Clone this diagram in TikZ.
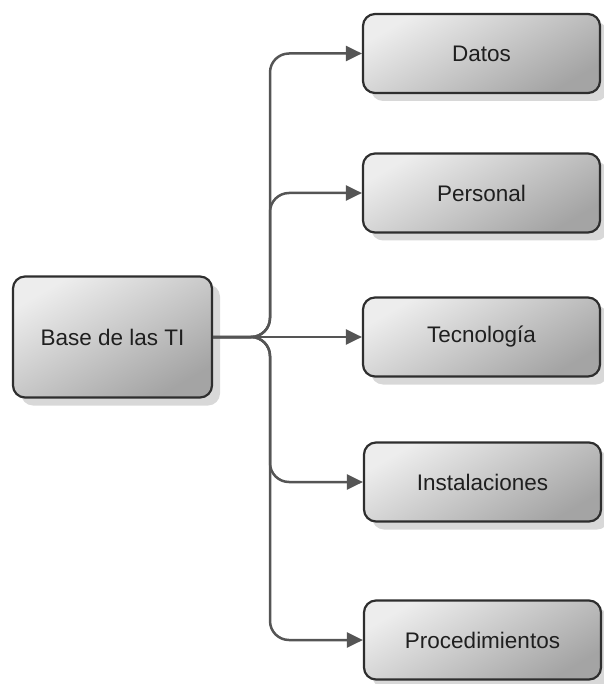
\documentclass[tikz,border=0pt]{standalone}
\usepackage{fontspec}
\setmainfont{Liberation Sans}
\usetikzlibrary{arrows.meta,shadows}
\definecolor{linec}{HTML}{555555}
\definecolor{borderc}{HTML}{2E2E2E}
\definecolor{lightc}{HTML}{EDEDED}
\definecolor{darkc}{HTML}{A4A4A4}
\definecolor{shadowc}{HTML}{D8D8D8}
\tikzset{
  boxnode/.style={draw=borderc, line width=2.2pt, rounded corners=12pt,
    top color=lightc, bottom color=darkc, shading angle=30,
    general shadow={fill=shadowc, shadow xshift=8pt, shadow yshift=-8pt},
    text=black!88, font=\fontsize{22.5}{26}\selectfont, align=center},
  rbox/.style={boxnode, minimum width=237pt, minimum height=79pt},
  conn/.style={draw=linec, line width=2.5pt, rounded corners=19pt,
    -{Triangle[length=16pt,width=15pt]}}
}
\begin{document}
\begin{tikzpicture}[x=1pt,y=-1pt]
\useasboundingbox (0,0) rectangle (603,684);
\node[boxnode, minimum width=199pt, minimum height=121pt] (base) at (112.5,337) {Base de las TI};
\node[rbox] (datos) at (481.5,53.5) {Datos};
\node[rbox] (personal) at (481.5,193) {Personal};
\node[rbox] (tecno) at (481.5,337) {Tecnología};
\node[rbox] (instal) at (482.5,482) {Instalaciones};
\node[rbox] (proc) at (482.5,640) {Procedimientos};
\coordinate (j) at (270,337);
\draw[conn] (base.east) -- (j) |- (datos.west);
\draw[conn] (base.east) -- (j) |- (personal.west);
\draw[conn, rounded corners=0pt] (base.east) -- (tecno.west);
\draw[conn] (base.east) -- (j) |- (instal.west);
\draw[conn] (base.east) -- (j) |- (proc.west);
\end{tikzpicture}
\end{document}
